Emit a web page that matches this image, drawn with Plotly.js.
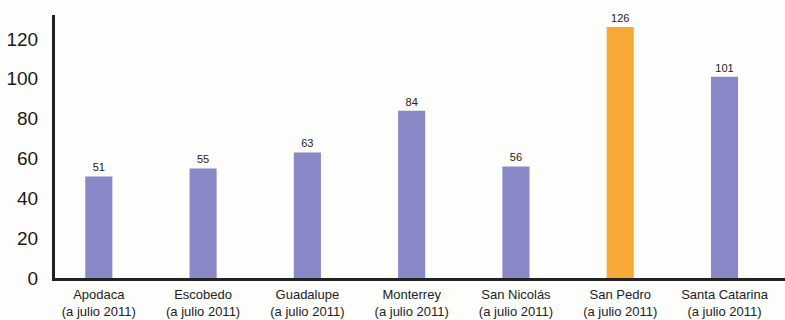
<!DOCTYPE html>
<html>
<head>
<meta charset="utf-8">
<script src="https://cdn.plot.ly/plotly-3.0.1.min.js"></script>
<style>html,body{margin:0;padding:0;background:#fdfdfb;}</style>
</head>
<body>
<div id="chart" style="width:785px;height:320px;"></div>
<script>
const categories = ["Apodaca<br>(a julio 2011)", "Escobedo<br>(a julio 2011)", "Guadalupe<br>(a julio 2011)", "Monterrey<br>(a julio 2011)", "San Nicolás<br>(a julio 2011)", "San Pedro<br>(a julio 2011)", "Santa Catarina<br>(a julio 2011)"];
const values = [51, 55, 63, 84, 56, 126, 101];
const barColors = ["#8a89c8", "#8a89c8", "#8a89c8", "#8a89c8", "#8a89c8", "#f8a935", "#8a89c8"];
const yTicks = [0, 20, 40, 60, 80, 100, 120];

const trace = {
  type: "bar",
  x: categories,
  y: values,
  marker: {color: barColors},
  text: values.map(String),
  textposition: "outside",
  cliponaxis: false,
  textfont: {family: "Liberation Sans, Arial, sans-serif", size: 11, color: "#222"},
  hoverinfo: "none"
};

const layout = {
  width: 785, height: 320,
  margin: {l: 55, r: 0, t: 15, b: 42},
  paper_bgcolor: "#fdfdfb",
  plot_bgcolor: "#fdfdfb",
  bargap: 0.74,
  showlegend: false,
  font: {family: "Liberation Sans, Arial, sans-serif", color: "#222"},
  xaxis: {
    type: "category",
    range: [-0.42, 6.58],
    showline: true, linecolor: "#222", linewidth: 3,
    showgrid: false, zeroline: false,
    ticks: "", tickfont: {size: 13, color: "#222"},
    ticklabelstandoff: 2
  },
  yaxis: {
    range: [0, 132],
    tickvals: yTicks,
    showline: true, linecolor: "#222", linewidth: 3,
    showgrid: false, zeroline: false,
    ticks: "", tickfont: {size: 19, color: "#1a1a1a"},
    ticklabelstandoff: 10
  }
};

Plotly.newPlot("chart", [trace], layout, {displayModeBar: false, staticPlot: true});
</script>
</body>
</html>
